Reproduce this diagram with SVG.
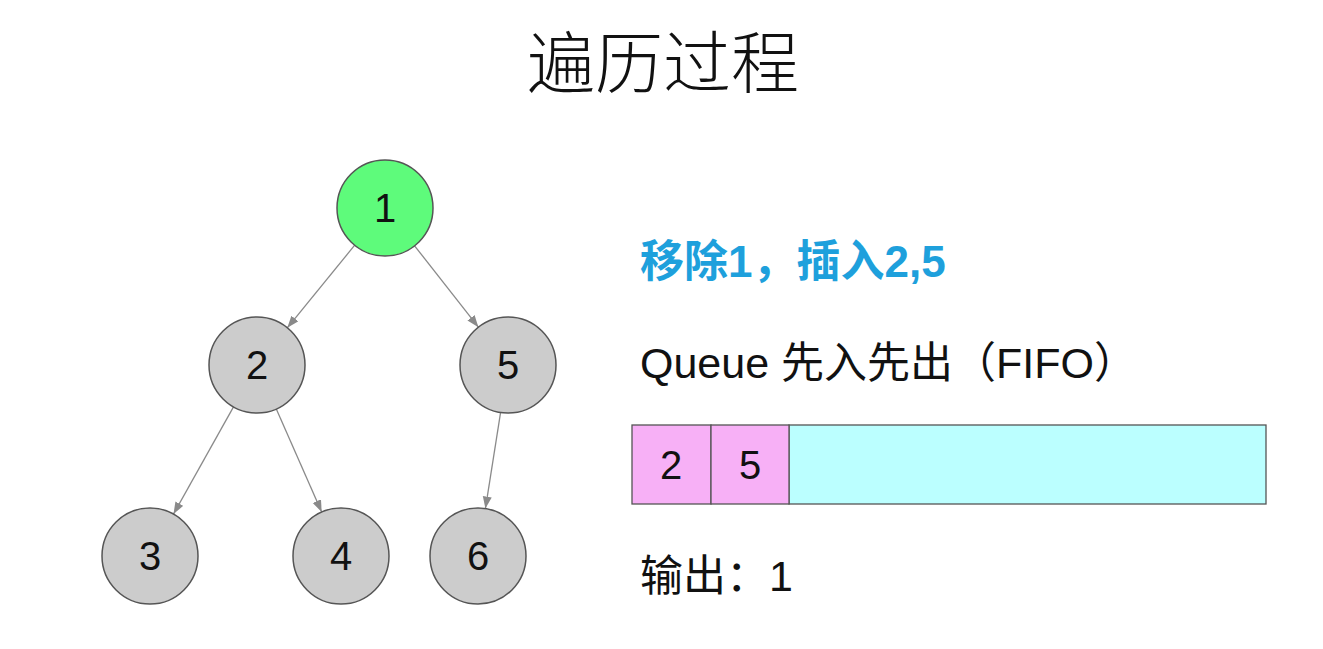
<svg xmlns="http://www.w3.org/2000/svg" width="1323" height="649" viewBox="0 0 1323 649">
<defs>
<style>
.node circle{stroke:#555;stroke-width:1.5}
.gray{fill:#cccccc}
.green{fill:#5efb7b}
.ntxt{font-family:"Liberation Sans",Arial,sans-serif;font-size:40px;fill:#111;text-anchor:middle}
.edge{stroke:#8a8a8a;stroke-width:1.3;fill:none;marker-end:url(#arr)}
.cjk{font-family:"Noto Sans CJK SC","Noto Sans",sans-serif}
.mix{font-family:"Liberation Sans","Noto Sans CJK SC",sans-serif}
.cell{stroke:#555;stroke-width:1.3}
</style>
<marker id="arr" markerUnits="userSpaceOnUse" markerWidth="12" markerHeight="10" refX="12" refY="4.5" orient="auto">
<path d="M0,0 L12,4.5 L0,9 z" fill="#8a8a8a"/>
</marker>
</defs>
<rect width="1323" height="649" fill="#ffffff"/>
<text id="title" x="663" y="88" class="cjk" font-size="68" font-weight="300" text-anchor="middle" fill="#111">遍历过程</text>
<g id="connectors">
<line class="edge" x1="354.7" y1="245.2" x2="287.3" y2="327.8"/>
<line class="edge" x1="414.6" y1="245.8" x2="478.4" y2="327.2"/>
<line class="edge" x1="233.5" y1="406.9" x2="173.5" y2="514.1"/>
<line class="edge" x1="276.3" y1="408.9" x2="321.7" y2="512.1"/>
<line class="edge" x1="500.6" y1="412.4" x2="485.4" y2="508.6"/>
</g>
<g id="node1" class="node"><circle class="green" cx="385" cy="208" r="48"/><text class="ntxt" x="385" y="222">1</text></g>
<g id="node2" class="node"><circle class="gray" cx="257" cy="365" r="48"/><text class="ntxt" x="257" y="379">2</text></g>
<g id="node5" class="node"><circle class="gray" cx="508" cy="365" r="48"/><text class="ntxt" x="508" y="379">5</text></g>
<g id="node3" class="node"><circle class="gray" cx="150" cy="556" r="48"/><text class="ntxt" x="150" y="570">3</text></g>
<g id="node4" class="node"><circle class="gray" cx="341" cy="556" r="48"/><text class="ntxt" x="341" y="570">4</text></g>
<g id="node6" class="node"><circle class="gray" cx="478" cy="556" r="48"/><text class="ntxt" x="478" y="570">6</text></g>
<text id="step" x="640" y="277" class="mix" font-size="44" font-weight="600" fill="#1ea0dc">移除1，插入2,5</text>
<text id="queue-label" x="640" y="378" class="mix" font-size="43" fill="#111">Queue 先入先出（FIFO）</text>
<g id="queue">
<rect class="cell" x="789" y="425" width="477" height="79" fill="#bbffff"/>
<rect class="cell" x="632" y="425" width="79" height="79" fill="#f7b0f6"/>
<rect class="cell" x="711" y="425" width="78" height="79" fill="#f7b0f6"/>
<text class="ntxt" x="671" y="479" font-size="38">2</text>
<text class="ntxt" x="750" y="479" font-size="38">5</text>
</g>
<text id="output" x="640" y="591" class="mix" font-size="43" fill="#111">输出：1</text>
</svg>
